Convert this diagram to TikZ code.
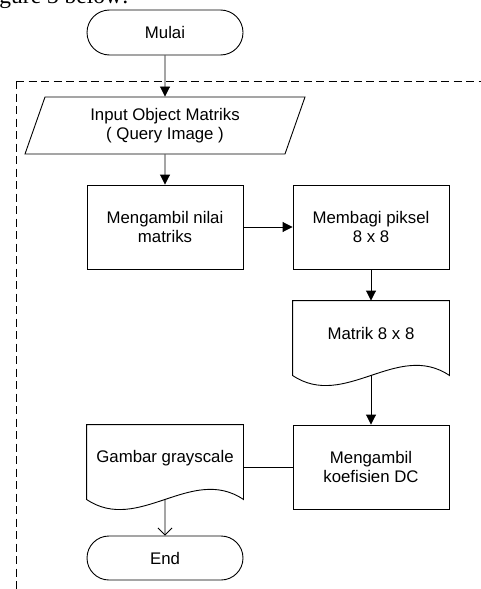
\documentclass[tikz,border=0pt]{standalone}
\usepackage{fontspec}
\setmainfont{Liberation Sans}
\newfontfamily\pageserif{Liberation Serif}
\usetikzlibrary{shapes.geometric,shapes.misc,arrows.meta}
\begin{document}
\begin{tikzpicture}[x=1pt,y=1pt,line width=0.9pt,
  base/.style={draw, line width=0.9pt, inner sep=0pt, align=center, font=\fontsize{16.8}{19}\selectfont},
  process/.style={base, rectangle, minimum width=156pt, minimum height=84pt},
  term/.style={base, rounded rectangle, minimum width=156pt, minimum height=45pt},
  io/.style={base, trapezium, trapezium left angle=60, trapezium right angle=120, trapezium stretches body, minimum width=280pt, minimum height=57pt},
  docarea/.style={rectangle, inner sep=0pt, minimum width=156pt, minimum height=74pt},
  doctext/.style={inner sep=0pt, align=center, font=\fontsize{16.8}{19}\selectfont},
  flow/.style={-{Triangle[length=10pt,width=10pt]}},
  openflow/.style={-{Straight Barb[length=7pt,width=14pt]}},
  frameline/.style={dash pattern=on 8pt off 4.5pt}
]
\useasboundingbox (0,0) rectangle (481,-589);
\begin{scope}
  \clip (0,0) rectangle (481,-589);
  \node[anchor=base west, inner sep=0pt, font=\pageserif\fontsize{23.5}{26}\selectfont] (pagetext) at (-1,-4) {gure 3 below:};
\end{scope}

% dashed frame
\coordinate (fc) at (16,-81);
\coordinate (fr) at (481,-81);
\coordinate (fb) at (16,-589);
\draw[frameline] (fc) -- (fr);
\draw[frameline] (fc) -- (fb);

% nodes
\node[term] (start) at (165,-32.5) {Mulai};
\node[io] (inp) at (165,-125.5) {Input Object Matriks\\( Query Image )};
\node[process] (nilai) at (165,-227) {Mengambil nilai\\matriks};
\node[process] (bagi) at (371,-227) {Membagi piksel\\8 x 8};
\node[docarea] (doc1) at (371,-338) {};
\node[doctext] (doc1t) at (371,-333) {Matrik 8 x 8};
\node[process] (dc) at (371,-467) {Mengambil\\koefisien DC};
\node[docarea] (doc2) at (165,-462) {};
\node[doctext] (doc2t) at (165,-458) {Gambar grayscale};
\node[term, minimum height=44pt] (end) at (165,-558) {End};

% document outlines
\draw (doc1.north west) -- (doc1.south west) .. controls +(52,-35) and +(-52,35) .. (doc1.south east) -- (doc1.north east) -- cycle;
\draw (doc2.north west) -- (doc2.south west) .. controls +(52,-35) and +(-52,35) .. (doc2.south east) -- (doc2.north east) -- cycle;

% connectors
\draw[flow] (start) -- (inp);
\draw[flow] (inp) -- (nilai);
\draw[flow] (nilai) -- (bagi);
\draw[flow] (bagi) -- (doc1.north);
\draw[flow] (doc1.south) -- (dc);
\draw (dc.west) -- (dc.west -| doc2.east);
\draw[openflow] (doc2.south) -- (end);
\end{tikzpicture}
\end{document}
